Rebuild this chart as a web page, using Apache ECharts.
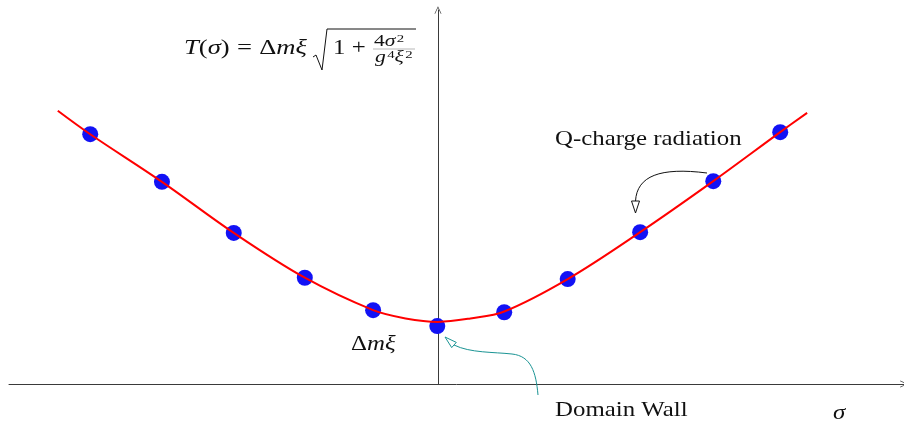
<!DOCTYPE html>
<html>
<head>
<meta charset="utf-8">
<script src="https://cdn.jsdelivr.net/npm/echarts@6/dist/echarts.min.js"></script>
<style>
  html, body { margin: 0; padding: 0; background: #fff; }
  #chart { width: 904px; height: 422px; }
</style>
</head>
<body>
<div id="chart"></div>
<script>
// Sampled points (sigma, T) shown as blue dots
const sigmaDots = [-5.04, -4.00, -2.96, -1.93, -0.94, -0.01, 0.96, 1.88, 2.93, 3.99, 4.96];
const tDots     = [ 3.62,  2.93,  2.19,  1.54,  1.07,  0.84, 1.04, 1.52, 2.20, 2.94, 3.65];

// Readings along the red tension curve T(sigma)
const sigmaCurve = [-5.51, -5.04, -4.00, -2.96, -1.93, -0.94, -0.47, 0.00, 0.47, 0.96, 1.88, 2.93, 3.99, 4.96, 5.35];
const tCurve     = [ 3.96,  3.62,  2.93,  2.19,  1.54,  1.07,  0.95, 0.90, 0.95, 1.05, 1.52, 2.20, 2.94, 3.65, 3.93];

// Axis extents (no tick labels are drawn)
const xRange = [-6.217, 6.754];
const yRange = [0, 5.42];

const SERIF = '"Liberation Serif", "DejaVu Serif", serif';
const INK = '#111';
const TEAL = '#1a9494';
const AXIS_COLOR = '#3a3a3a';
const ARROW = 'path://M5,0 L10,11 L9,11 L5,2.4 L1,11 L0,11 Z';
const WIDEN = 1.13;   // horizontal stretch applied to the serif labels

const chart = echarts.init(document.getElementById('chart'), null, { renderer: 'canvas' });

function pairs(xs, ys) { return xs.map((x, i) => [x, ys[i]]); }

const mathRich = {
  it: { fontFamily: SERIF, fontStyle: 'italic', fontSize: 22, fill: INK },
  rm: { fontFamily: SERIF, fontSize: 22, fill: INK },
  eq: { fontFamily: SERIF, fontSize: 22, fill: INK, padding: [0, 6, 0, 6] }
};
const fracRich = {
  rm: { fontFamily: SERIF, fontSize: 16, fill: INK },
  it: { fontFamily: SERIF, fontStyle: 'italic', fontSize: 16, fill: INK },
  sup: { fontFamily: SERIF, fontSize: 11, fill: INK, verticalAlign: 'top', padding: [0, 0, 0, 1] }
};

function label(x, y, text, extra, widen) {
  return Object.assign({ type: 'text', x: x, y: y, z: 10, scaleX: widen || WIDEN,
    style: Object.assign({ text: text, fontFamily: SERIF, fontSize: 22, fill: INK, verticalAlign: 'middle' }, extra || {}) });
}

const option = {
  backgroundColor: '#fff',
  animation: false,
  grid: { left: 9, right: 0, top: 10, bottom: 38, containLabel: false },
  xAxis: {
    type: 'value', min: xRange[0], max: xRange[1],
    axisLine: { show: true, onZero: true, symbol: ['none', ARROW], symbolSize: [7, 11],
      lineStyle: { color: AXIS_COLOR, width: 1 } },
    axisTick: { show: false }, axisLabel: { show: false }, splitLine: { show: false }
  },
  yAxis: {
    type: 'value', min: yRange[0], max: yRange[1],
    axisLine: { show: true, onZero: true, symbol: ['none', ARROW], symbolSize: [7, 11],
      lineStyle: { color: AXIS_COLOR, width: 1 } },
    axisTick: { show: false }, axisLabel: { show: false }, splitLine: { show: false }
  },
  series: [
    {
      type: 'scatter', data: pairs(sigmaDots, tDots), symbol: 'circle', symbolSize: 16,
      itemStyle: { color: '#1212f5', opacity: 1 }, z: 2
    },
    {
      type: 'line', data: pairs(sigmaCurve, tCurve), smooth: 0.35, showSymbol: false,
      lineStyle: { color: '#ff0000', width: 2 }, z: 3
    }
  ],
  graphic: [
    // T(sigma) formula
    label(184, 48, '{it|T}{rm|(}{it|σ}{rm|)}{eq|=}{rm|Δ}{it|mξ}', { rich: mathRich }, 1.21),
    { type: 'polyline', z: 10, shape: { points: [[313, 57], [316, 55], [322, 70], [327, 29], [416, 29]] },
      style: { stroke: INK, lineWidth: 1, fill: 'none' } },
    label(333, 48, '{rm|1 +}', { rich: mathRich }),
    { type: 'text', x: 374, y: 42, z: 10, scaleX: 1.35,
      style: { text: '{rm|4}{it|σ}{sup|2}', rich: fracRich, verticalAlign: 'middle' } },
    { type: 'line', z: 10, shape: { x1: 373, y1: 49, x2: 415, y2: 49 },
      style: { stroke: '#888', lineWidth: 0.6 } },
    { type: 'text', x: 375, y: 58, z: 10, scaleX: 1.35,
      style: { text: '{it|g}{sup|4}{it|ξ}{sup|2}', rich: fracRich, verticalAlign: 'middle' } },

    // Q-charge radiation annotation
    label(555, 139, 'Q-charge radiation'),
    { type: 'bezierCurve', z: 10,
      shape: { x1: 707, y1: 173, cpx1: 660, cpy1: 167, cpx2: 637, cpy2: 176, x2: 635.5, y2: 201 },
      style: { stroke: INK, lineWidth: 1, fill: 'none' } },
    { type: 'polygon', z: 10, shape: { points: [[635.5, 213], [631.5, 201], [639.5, 201]] },
      style: { stroke: INK, lineWidth: 1, fill: '#fff' } },

    // Domain Wall annotation
    label(555, 410, 'Domain Wall'),
    { type: 'bezierCurve', z: 10,
      shape: { x1: 538, y1: 395, cpx1: 536, cpy1: 372, cpx2: 531, cpy2: 356, x2: 512, y2: 354 },
      style: { stroke: TEAL, lineWidth: 1, fill: 'none' } },
    { type: 'bezierCurve', z: 10,
      shape: { x1: 512, y1: 354, cpx1: 494, cpy1: 352, cpx2: 470, cpy2: 353, x2: 454, y2: 345 },
      style: { stroke: TEAL, lineWidth: 1, fill: 'none' } },
    { type: 'polygon', z: 10, shape: { points: [[445, 337], [456.3, 342.4], [451.7, 347.6]] },
      style: { stroke: TEAL, lineWidth: 1, fill: '#fff' } },

    // Minimum value label and sigma axis label
    label(351, 344, '{rm|Δ}{it|mξ}', { rich: mathRich }),
    label(833, 413, 'σ', { fontStyle: 'italic' })
  ]
};

chart.setOption(option);
</script>
</body>
</html>
